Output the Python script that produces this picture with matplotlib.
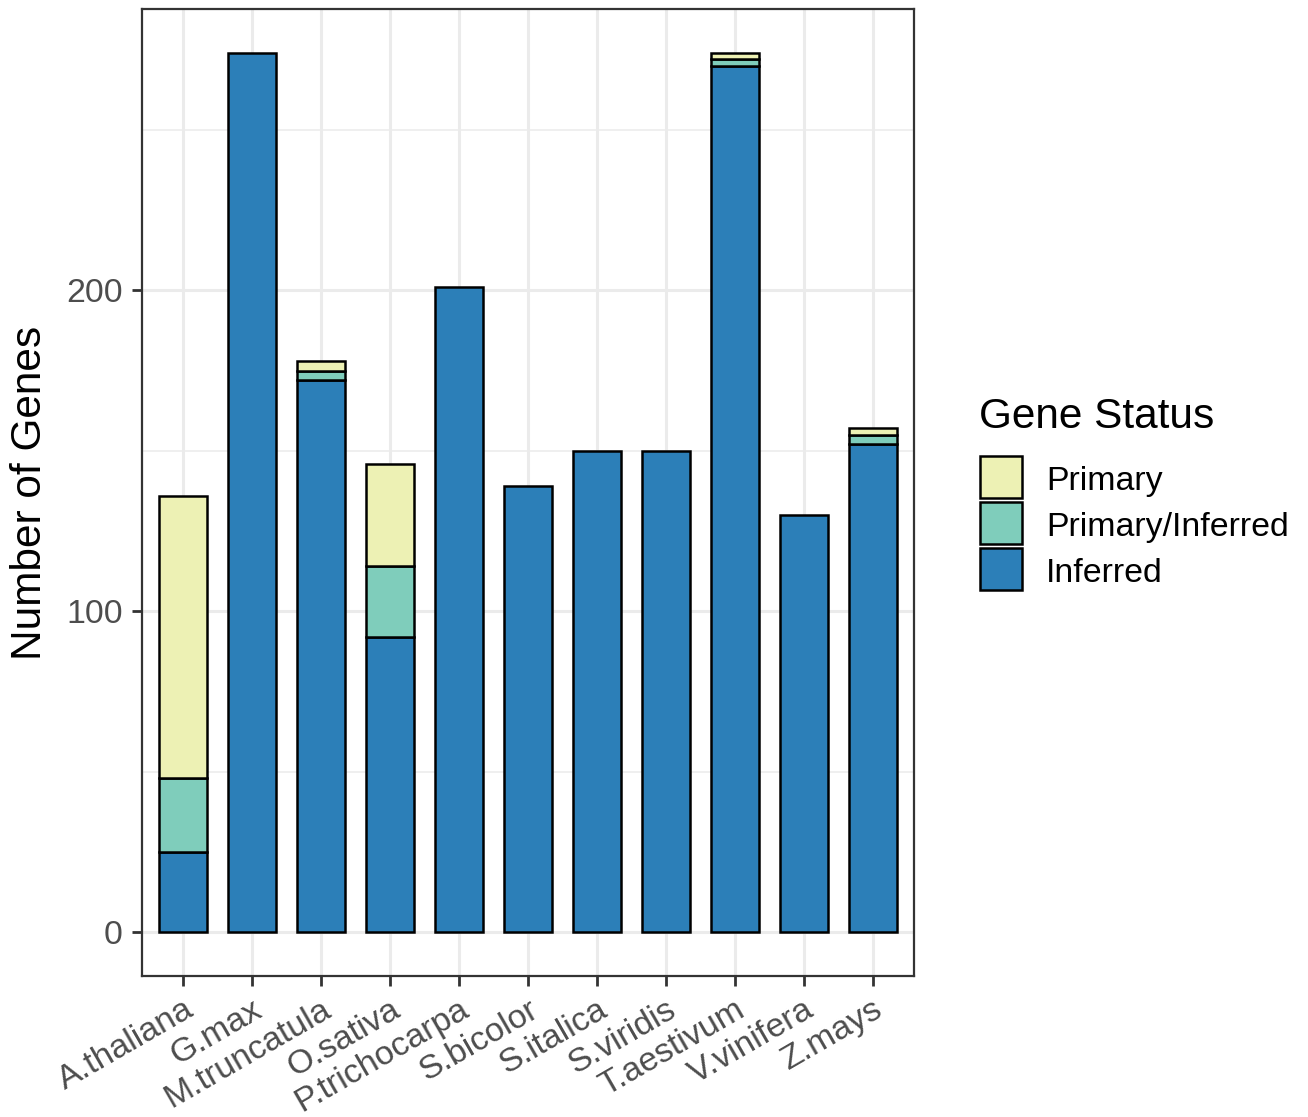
import matplotlib
matplotlib.use("Agg")
import matplotlib.pyplot as plt
from matplotlib.patches import Rectangle
import numpy as np

species = ['A.thaliana', 'G.max', 'M.truncatula', 'O.sativa', 'P.trichocarpa',
           'S.bicolor', 'S.italica', 'S.viridis', 'T.aestivum', 'V.vinifera', 'Z.mays']
inferred = [25, 274, 172, 92, 201, 139, 150, 150, 270, 130, 152]
primary_inferred = [23, 0, 3, 22, 0, 0, 0, 0, 2, 0, 3]
primary = [88, 0, 3, 32, 0, 0, 0, 0, 2, 0, 2]
status_labels = ['Primary', 'Primary/Inferred', 'Inferred']
status_colors = {'Primary': '#EDF1B4', 'Primary/Inferred': '#7FCDBB', 'Inferred': '#2C7FB8'}
y_ticks = [0, 100, 200]
y_minor = [50, 150, 250]

plt.rcParams['font.family'] = ['Liberation Sans', 'DejaVu Sans']

W, H = 1308, 1117
fig = plt.figure(figsize=(W / 100, H / 100), dpi=100)
ax = fig.add_axes([142 / W, 1 - 976 / H, 772 / W, 967 / H])

x = np.arange(len(species))
bottom = np.zeros(len(species))
stack_order = [('Inferred', inferred), ('Primary/Inferred', primary_inferred), ('Primary', primary)]
for name, vals in stack_order:
    vals = np.array(vals, dtype=float)
    m = vals > 0
    ax.bar(x[m], vals[m], bottom=bottom[m], width=0.7, color=status_colors[name],
           edgecolor='black', linewidth=1.8, zorder=3)
    bottom += vals

total_max = max(bottom)
ax.set_xlim(-0.6, len(species) - 0.4)
ax.set_ylim(-0.05 * total_max, total_max * 1.05)
ax.set_yticks(y_ticks)
ax.set_yticks(y_minor, minor=True)
ax.set_xticks(x)
ax.set_xticklabels(species, rotation=30, ha='right', va='top', rotation_mode='anchor')

ax.set_axisbelow(True)
ax.grid(which='major', color='#EBEBEB', linewidth=2.2, zorder=0)
ax.grid(which='minor', axis='y', color='#EBEBEB', linewidth=1.1, zorder=0)

for s in ax.spines.values():
    s.set_color('#333333')
    s.set_linewidth(1.6)

ax.tick_params(axis='both', which='major', length=7, width=2, color='#333333',
               labelsize=24.4, labelcolor='#4D4D4D')
ax.tick_params(axis='y', which='major', pad=7)
ax.tick_params(axis='x', which='major', pad=6)
ax.tick_params(which='minor', length=0)

fig.text(30 / W, 1 - 492.5 / H, 'Number of Genes', rotation=90, ha='center', va='center',
         fontsize=30.5, color='black')

# legend
def fx(px):
    return px / W

def fy(py):
    return 1 - py / H

fig.text(fx(979), fy(428), 'Gene Status', fontsize=30.5, color='black', ha='left', va='baseline')
slot_top = 454
slot_h = 46
for i, name in enumerate(status_labels):
    top = slot_top + i * slot_h
    r = Rectangle((fx(980), fy(top + slot_h - 2)), 42 / W, (slot_h - 4) / H,
                  transform=fig.transFigure, facecolor=status_colors[name],
                  edgecolor='black', linewidth=1.8)
    fig.add_artist(r)
    fig.text(fx(1046), fy(top + slot_h / 2 + 1), name, fontsize=24.4, color='black',
             ha='left', va='center_baseline')

fig.savefig('out.png', dpi=100, facecolor='white')
